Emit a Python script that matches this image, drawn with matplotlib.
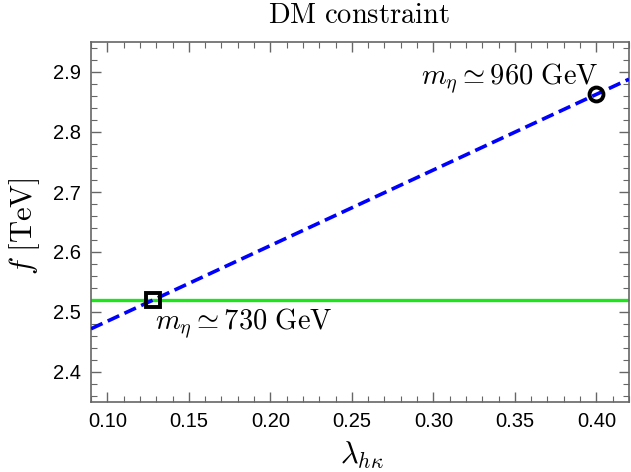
import matplotlib
matplotlib.use("Agg")
import matplotlib.pyplot as plt
from matplotlib.ticker import MultipleLocator

# values
line_x = [0.09, 0.42]
line_f = [2.472, 2.888]
green_f = 2.52
square_pt = (0.128, 2.52)
circle_pt = (0.40, 2.863)
label_low = r"$m_\eta \simeq 730\ \mathrm{GeV}$"
label_high = r"$m_\eta \simeq 960\ \mathrm{GeV}$"

plt.rcParams["mathtext.fontset"] = "cm"
plt.rcParams["font.family"] = ["Liberation Sans", "DejaVu Sans"]

fig = plt.figure(figsize=(6.31, 4.72), dpi=100)
ax = fig.add_axes([91 / 631, 1 - 402 / 472, 538 / 631, 360 / 472])

ax.axhline(green_f, color=(0.1, 0.9, 0.1), lw=2.4, zorder=2)
ax.plot(line_x, line_f, color=(0, 0, 1), lw=2.6, ls=(0, (3.5, 1.6)), zorder=3)
ax.plot(*square_pt, marker="s", ms=10, mfc="none", mec="black", mew=2.8, zorder=4)
ax.plot(*circle_pt, marker="o", ms=10, mfc="none", mec="black", mew=2.8, zorder=4)

ax.text(0.1835, 2.481, label_low, fontsize=20.5, ha="center", va="center")
ax.text(0.347, 2.889, label_high, fontsize=20.5, ha="center", va="center")

ax.set_xlim(0.09, 0.42)
ax.set_ylim(2.35, 2.95)
ax.xaxis.set_major_locator(MultipleLocator(0.05))
ax.xaxis.set_minor_locator(MultipleLocator(0.01))
ax.yaxis.set_major_locator(MultipleLocator(0.1))
ax.yaxis.set_minor_locator(MultipleLocator(0.02))
ax.xaxis.set_major_formatter(lambda v, p: f"{v:.2f}")
ax.yaxis.set_major_formatter(lambda v, p: f"{v:.1f}")

for s in ax.spines.values():
    s.set_color("#666666")
    s.set_linewidth(1.2)
ax.tick_params(which="both", direction="in", top=True, right=True,
               color="#666666", labelsize=14.5, labelcolor="black")
ax.tick_params(which="major", length=7, width=1.0, pad=7)
ax.tick_params(which="minor", length=4, width=0.8)

fig.text(362 / 631, 1 - 455 / 472, r"$\lambda_{h\kappa}$", fontsize=22,
         ha="center", va="center")
fig.text(25 / 631, 1 - 226 / 472, r"$f\ [\mathrm{TeV}]$", fontsize=22,
         ha="center", va="center", rotation=90)
fig.text(359 / 631, 1 - 16 / 472, r"$\mathrm{DM\ constraint}$", fontsize=20.5,
         ha="center", va="center")

fig.savefig("out.png", dpi=100)
